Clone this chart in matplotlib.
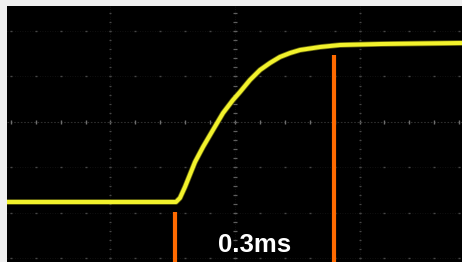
"""Oscilloscope capture: step response rise with cursor markers."""

import matplotlib

matplotlib.use("Agg")
import matplotlib.pyplot as plt
import numpy as np

# trace, in divisions from screen centre
TIME_DIV = [-1.831, -0.474, -0.442, -0.402, -0.321, -0.257, -0.177, -0.096, -0.016,
            0.040, 0.120, 0.201, 0.281, 0.361, 0.442, 0.522, 0.683, 0.843,
            1.173, 1.486, 1.823]
LEVEL_DIV = [-1.758, -1.758, -1.670, -1.429, -0.879, -0.549, -0.176, 0.198, 0.484,
             0.659, 0.923, 1.143, 1.297, 1.429, 1.516, 1.582, 1.648, 1.692,
             1.714, 1.725, 1.736]

# cursor positions (time) and the level where each cursor starts
CURSOR_TIME = [-0.482, 0.795]
CURSOR_TOP = [-1.978, 1.473]
CURSOR_LABEL = "0.3ms"

X_RANGE = (-1.831, 1.823)
Y_RANGE = (-3.077, 2.549)
MAJOR_X = [-1, 0, 1]
MAJOR_Y = [-3, -2, -1, 0, 1, 2]

BORDER = "#efefef"
SCREEN = "#000000"
GRID = "#464646"
TRACE = "#f2f22c"
CURSOR = "#ff6a00"


def draw_graticule(ax):
    xs = np.arange(-2.0, 2.01, 0.2)
    ys = np.arange(-3.2, 2.61, 0.2)
    for y in MAJOR_Y:
        if y == 0:
            ax.axhline(y, color="#2e2e2e", lw=0.8, ls=(0, (1.5, 1.5)), zorder=1)
            ax.scatter(xs, np.full_like(xs, y), marker="|", s=12, lw=1.0,
                       color="#6e6e6e", zorder=2)
        else:
            ax.axhline(y, color="#161616", lw=0.6, ls=(0, (1, 2)), zorder=1)
            ax.scatter(xs, np.full_like(xs, y), marker="_", s=4, lw=1.0,
                       color=GRID, zorder=2)
    for x in MAJOR_X:
        ax.axvline(x, color="#161616", lw=0.6, ls=(0, (1, 2)), zorder=1)
        ax.scatter(np.full_like(ys, x), ys, marker="_", s=7 if x == 0 else 4,
                   lw=0.9, color="#5e5e5e" if x == 0 else GRID, zorder=2)


def main():
    fig = plt.figure(figsize=(4.62, 2.62), dpi=100, facecolor=BORDER)
    ax = fig.add_axes([7 / 462, 0, 455 / 462, 256 / 262])
    ax.set_facecolor(SCREEN)
    ax.set_xlim(*X_RANGE)
    ax.set_ylim(*Y_RANGE)
    for spine in ax.spines.values():
        spine.set_visible(False)
    ax.set_xticks([])
    ax.set_yticks([])

    draw_graticule(ax)

    # faint glow plus the trace itself
    ax.plot(TIME_DIV, LEVEL_DIV, color="#a8a818", lw=4.0, alpha=0.6,
            solid_capstyle="butt", solid_joinstyle="round", zorder=3)
    ax.plot(TIME_DIV, LEVEL_DIV, color=TRACE, lw=2.9, solid_capstyle="butt",
            solid_joinstyle="round", zorder=4)

    for t, top in zip(CURSOR_TIME, CURSOR_TOP):
        ax.plot([t, t], [top, Y_RANGE[0]], color=CURSOR, lw=3.0,
                solid_capstyle="butt", zorder=5)

    ax.text(np.mean(CURSOR_TIME), -2.71, CURSOR_LABEL, color="white",
            fontsize=18.5, fontweight="bold", family=["Liberation Sans", "DejaVu Sans"],
            ha="center", va="center", zorder=6)

    fig.savefig("out.png", dpi=100, facecolor=BORDER)
    plt.close(fig)


if __name__ == "__main__":
    main()
